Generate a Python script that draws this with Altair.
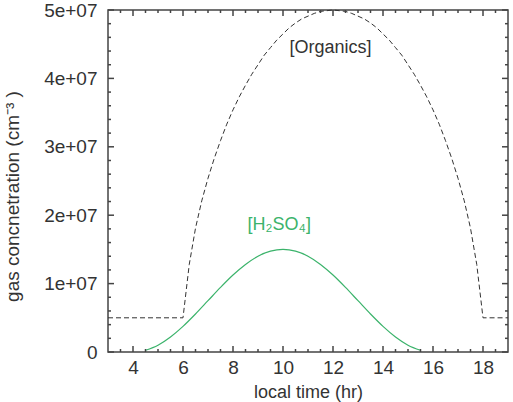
import altair as alt
import pandas as pd

# Local time (hr) and gas concentrations, in units of 1e7 molecules cm^-3
org_hours = [3.0, 6.0, 6.25, 6.5, 6.75, 7.0, 7.25, 7.5, 7.75, 8.0, 8.25, 8.5, 8.75,
             9.0, 9.25, 9.5, 9.75, 10.0, 10.25, 10.5, 10.75, 11.0, 11.25, 11.5, 11.75,
             12.0, 12.25, 12.5, 12.75, 13.0, 13.25, 13.5, 13.75, 14.0, 14.25, 14.5,
             14.75, 15.0, 15.25, 15.5, 15.75, 16.0, 16.25, 16.5, 16.75, 17.0, 17.25,
             17.5, 17.75, 18.0, 19.0]
organics = [0.5, 0.5, 1.28, 1.81, 2.21, 2.54, 2.83, 3.09, 3.33, 3.54, 3.73, 3.90, 4.06,
            4.20, 4.34, 4.45, 4.56, 4.65, 4.74, 4.81, 4.87, 4.91, 4.95, 4.98, 4.99,
            5.00, 4.99, 4.98, 4.95, 4.91, 4.87, 4.81, 4.74, 4.65, 4.56, 4.45,
            4.34, 4.20, 4.06, 3.90, 3.73, 3.54, 3.33, 3.09, 2.83, 2.54, 2.21,
            1.81, 1.28, 0.5, 0.5]

h2so4_hours = [4.5, 5.0, 5.5, 6.0, 6.5, 7.0, 7.5, 8.0, 8.5, 9.0, 9.5, 10.0,
               10.5, 11.0, 11.5, 12.0, 12.5, 13.0, 13.5, 14.0, 14.5, 15.0, 15.5]
h2so4 = [0.026, 0.100, 0.220, 0.375, 0.556, 0.750, 0.944, 1.125, 1.280, 1.400, 1.474, 1.500,
         1.474, 1.400, 1.280, 1.125, 0.944, 0.750, 0.556, 0.375, 0.220, 0.100, 0.026]

# Curve labels
label_text = ["[Organics]", "[H\u2082SO\u2084]"]
label_hour = [11.9, 9.85]
label_value = [4.44, 1.85]

# Axis ticks
x_major = [4, 6, 8, 10, 12, 14, 16, 18]
x_minor = [3.5, 4.5, 5, 5.5, 6.5, 7, 7.5, 8.5, 9, 9.5, 10.5, 11, 11.5, 12.5, 13, 13.5,
           14.5, 15, 15.5, 16.5, 17, 17.5, 18.5]
y_major = [0, 1, 2, 3, 4, 5]
y_minor = [0.2, 0.4, 0.6, 0.8, 1.2, 1.4, 1.6, 1.8, 2.2, 2.4, 2.6, 2.8, 3.2, 3.4, 3.6,
           3.8, 4.2, 4.4, 4.6, 4.8]

GREEN = "#3bb36b"
INK = "#333333"
FRAME = "#444444"
FONT = "Liberation Sans"
W, H = 400, 342
MAJOR, MINOR = 6, 3
TICK_W = 1.5

org_df = pd.DataFrame({"hour": org_hours, "conc": organics})
h2_df = pd.DataFrame({"hour": h2so4_hours, "conc": h2so4})
lab_df = pd.DataFrame({"hour": label_hour, "conc": label_value, "text": label_text})

x_scale = alt.Scale(domain=[3, 19], nice=False, zero=False)
y_scale = alt.Scale(domain=[0, 5], nice=False)

x_axis = alt.Axis(values=x_major, ticks=False, tickSize=0, domain=False, grid=False,
                  labelPadding=6, labelFontSize=19, labelColor=INK, labelFont=FONT,
                  title="local time (hr)", titleFontSize=18, titleFont=FONT,
                  titleColor=INK, titleFontWeight="normal", titlePadding=6)
y_axis = alt.Axis(values=y_major, ticks=False, tickSize=0, domain=False, grid=False,
                  labelPadding=11, labelFontSize=19, labelColor=INK, labelFont=FONT,
                  labelExpr="datum.value == 0 ? '0' : datum.value + 'e+07'",
                  title="gas concnetration (cm\u207b\u00b3 )", titleFontSize=19,
                  titleFont=FONT, titleColor=INK, titleFontWeight="normal",
                  titlePadding=21, titleY=186)

organics_line = alt.Chart(org_df).mark_line(
    color=INK, strokeWidth=1, strokeDash=[5, 3]
).encode(
    x=alt.X("hour:Q", scale=x_scale, axis=x_axis),
    y=alt.Y("conc:Q", scale=y_scale, axis=y_axis),
)

h2so4_line = alt.Chart(h2_df).mark_line(
    color=GREEN, strokeWidth=1.2, interpolate="monotone"
).encode(
    x=alt.X("hour:Q", scale=x_scale, axis=x_axis),
    y=alt.Y("conc:Q", scale=y_scale, axis=y_axis),
)

curve_labels = alt.Chart(lab_df).mark_text(
    font=FONT, fontSize=18, align="center", baseline="middle"
).encode(
    x=alt.X("hour:Q", scale=x_scale, axis=x_axis),
    y=alt.Y("conc:Q", scale=y_scale, axis=y_axis),
    text="text:N",
    color=alt.Color("text:N", scale=alt.Scale(domain=label_text, range=[INK, GREEN]),
                    legend=None),
)


def x_ticks(values, y0, y1):
    # Tick marks along the top/bottom edges of the frame, pointing inward
    return alt.Chart(pd.DataFrame({"hour": values})).mark_rule(
        color=FRAME, strokeWidth=TICK_W
    ).encode(
        x=alt.X("hour:Q", scale=x_scale, axis=x_axis),
        y=alt.value(y0), y2=alt.value(y1),
    )


def y_ticks(values, x0, x1):
    # Tick marks along the left/right edges of the frame, pointing inward
    return alt.Chart(pd.DataFrame({"conc": values})).mark_rule(
        color=FRAME, strokeWidth=TICK_W
    ).encode(
        y=alt.Y("conc:Q", scale=y_scale, axis=y_axis),
        x=alt.value(x0), x2=alt.value(x1),
    )


ticks = [
    x_ticks(x_major, H, H - MAJOR), x_ticks(x_minor, H, H - MINOR),
    x_ticks(x_major, 0, MAJOR), x_ticks(x_minor, 0, MINOR),
    y_ticks(y_major, 0, MAJOR), y_ticks(y_minor, 0, MINOR),
    y_ticks(y_major, W, W - MAJOR), y_ticks(y_minor, W, W - MINOR),
]

chart = alt.layer(
    organics_line, h2so4_line, curve_labels, *ticks
).properties(
    width=W, height=H,
    autosize=alt.AutoSizeParams(type="none"),
    padding={"left": 108, "top": 10, "right": 5, "bottom": 50},
    background="white",
).configure_view(
    stroke=FRAME, strokeWidth=1.5
)

chart.save("out.html", embed_options={"renderer": "svg", "actions": False})
